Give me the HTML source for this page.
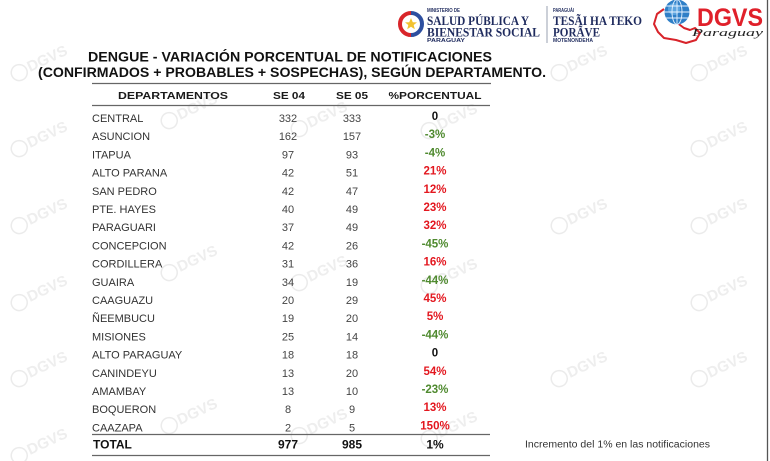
<!DOCTYPE html>
<html>
<head>
<meta charset="utf-8">
<style>
html,body{margin:0;padding:0;background:#fff;}
svg{display:block;}
</style>
</head>
<body>
<svg width="770" height="461" viewBox="0 0 770 461" xmlns="http://www.w3.org/2000/svg">
<rect width="770" height="461" fill="#ffffff"/>

<!-- watermarks -->
<g fill="none" stroke="#ececec" stroke-width="1.2" font-family="Liberation Sans, sans-serif">
  <g id="wm">
  </g>
</g>
<g font-family="Liberation Sans, sans-serif" font-weight="bold" font-size="15" fill="#eeeeee">
  <g transform="translate(30,72) rotate(-25)"><circle cx="-10" cy="-4" r="8" fill="none" stroke="#ebebeb" stroke-width="1.5"/><text x="0" y="0">DGVS</text></g>
  <g transform="translate(30,148) rotate(-25)"><circle cx="-10" cy="-4" r="8" fill="none" stroke="#ebebeb" stroke-width="1.5"/><text x="0" y="0">DGVS</text></g>
  <g transform="translate(30,225) rotate(-25)"><circle cx="-10" cy="-4" r="8" fill="none" stroke="#ebebeb" stroke-width="1.5"/><text x="0" y="0">DGVS</text></g>
  <g transform="translate(30,302) rotate(-25)"><circle cx="-10" cy="-4" r="8" fill="none" stroke="#ebebeb" stroke-width="1.5"/><text x="0" y="0">DGVS</text></g>
  <g transform="translate(30,378) rotate(-25)"><circle cx="-10" cy="-4" r="8" fill="none" stroke="#ebebeb" stroke-width="1.5"/><text x="0" y="0">DGVS</text></g>
  <g transform="translate(30,455) rotate(-25)"><circle cx="-10" cy="-4" r="8" fill="none" stroke="#ebebeb" stroke-width="1.5"/><text x="0" y="0">DGVS</text></g>

  <g transform="translate(180,120) rotate(-25)"><circle cx="-10" cy="-4" r="8" fill="none" stroke="#ebebeb" stroke-width="1.5"/><text x="0" y="0">DGVS</text></g>
  <g transform="translate(180,272) rotate(-25)"><circle cx="-10" cy="-4" r="8" fill="none" stroke="#ebebeb" stroke-width="1.5"/><text x="0" y="0">DGVS</text></g>
  <g transform="translate(180,425) rotate(-25)"><circle cx="-10" cy="-4" r="8" fill="none" stroke="#ebebeb" stroke-width="1.5"/><text x="0" y="0">DGVS</text></g>

  <g transform="translate(310,128) rotate(-25)"><circle cx="-10" cy="-4" r="8" fill="none" stroke="#ebebeb" stroke-width="1.5"/><text x="0" y="0">DGVS</text></g>
  <g transform="translate(310,282) rotate(-25)"><circle cx="-10" cy="-4" r="8" fill="none" stroke="#ebebeb" stroke-width="1.5"/><text x="0" y="0">DGVS</text></g>
  <g transform="translate(310,435) rotate(-25)"><circle cx="-10" cy="-4" r="8" fill="none" stroke="#ebebeb" stroke-width="1.5"/><text x="0" y="0">DGVS</text></g>

  <g transform="translate(440,130) rotate(-25)"><circle cx="-10" cy="-4" r="8" fill="none" stroke="#ebebeb" stroke-width="1.5"/><text x="0" y="0">DGVS</text></g>
  <g transform="translate(440,285) rotate(-25)"><circle cx="-10" cy="-4" r="8" fill="none" stroke="#ebebeb" stroke-width="1.5"/><text x="0" y="0">DGVS</text></g>
  <g transform="translate(440,438) rotate(-25)"><circle cx="-10" cy="-4" r="8" fill="none" stroke="#ebebeb" stroke-width="1.5"/><text x="0" y="0">DGVS</text></g>

  <g transform="translate(570,72) rotate(-25)"><circle cx="-10" cy="-4" r="8" fill="none" stroke="#ebebeb" stroke-width="1.5"/><text x="0" y="0">DGVS</text></g>
  <g transform="translate(570,225) rotate(-25)"><circle cx="-10" cy="-4" r="8" fill="none" stroke="#ebebeb" stroke-width="1.5"/><text x="0" y="0">DGVS</text></g>
  <g transform="translate(570,378) rotate(-25)"><circle cx="-10" cy="-4" r="8" fill="none" stroke="#ebebeb" stroke-width="1.5"/><text x="0" y="0">DGVS</text></g>

  <g transform="translate(710,72) rotate(-25)"><circle cx="-10" cy="-4" r="8" fill="none" stroke="#ebebeb" stroke-width="1.5"/><text x="0" y="0">DGVS</text></g>
  <g transform="translate(710,148) rotate(-25)"><circle cx="-10" cy="-4" r="8" fill="none" stroke="#ebebeb" stroke-width="1.5"/><text x="0" y="0">DGVS</text></g>
  <g transform="translate(710,225) rotate(-25)"><circle cx="-10" cy="-4" r="8" fill="none" stroke="#ebebeb" stroke-width="1.5"/><text x="0" y="0">DGVS</text></g>
  <g transform="translate(710,302) rotate(-25)"><circle cx="-10" cy="-4" r="8" fill="none" stroke="#ebebeb" stroke-width="1.5"/><text x="0" y="0">DGVS</text></g>
  <g transform="translate(710,378) rotate(-25)"><circle cx="-10" cy="-4" r="8" fill="none" stroke="#ebebeb" stroke-width="1.5"/><text x="0" y="0">DGVS</text></g>
</g>

<!-- right border line -->
<line x1="767.5" y1="0" x2="767.5" y2="461" stroke="#555" stroke-width="1.3"/>

<!-- Ministry emblem -->
<g>
  <path d="M411,13 A11,11 0 0,0 411,35" fill="none" stroke="#d9252a" stroke-width="4"/>
  <path d="M411,13 A11,11 0 0,1 411,35" fill="none" stroke="#2d4fa0" stroke-width="4"/>
  <circle cx="411" cy="24" r="7.5" fill="#fff"/>
  <polygon points="411,18 412.8,22.2 417,22.4 413.7,25 414.8,29.2 411,26.8 407.2,29.2 408.3,25 405,22.4 409.2,22.2" fill="#f2c230"/>
</g>
<g fill="#1f2b5e" font-family="Liberation Serif, serif" font-weight="bold">
  <text x="427" y="12" font-size="5.5" font-family="Liberation Sans, sans-serif" textLength="33" lengthAdjust="spacingAndGlyphs">MINISTERIO DE</text>
  <text x="427" y="25" font-size="13" textLength="102" lengthAdjust="spacingAndGlyphs">SALUD PÚBLICA Y</text>
  <text x="427" y="36.5" font-size="13" textLength="113" lengthAdjust="spacingAndGlyphs">BIENESTAR SOCIAL</text>
  <text x="427" y="42" font-size="5" font-family="Liberation Sans, sans-serif" textLength="38" lengthAdjust="spacingAndGlyphs">PARAGUAY</text>
  <text x="553" y="12" font-size="5.5" font-family="Liberation Sans, sans-serif" textLength="21" lengthAdjust="spacingAndGlyphs">PARAGUÁI</text>
  <text x="553" y="25" font-size="13" textLength="89" lengthAdjust="spacingAndGlyphs">TESÃI HA TEKO</text>
  <text x="553" y="36.5" font-size="13" textLength="47" lengthAdjust="spacingAndGlyphs">PORÃVE</text>
  <text x="553" y="42" font-size="5" font-family="Liberation Sans, sans-serif" textLength="40" lengthAdjust="spacingAndGlyphs">MOTENONDEHA</text>
</g>
<line x1="547" y1="6" x2="547" y2="43" stroke="#9aa0b0" stroke-width="1"/>

<!-- DGVS logo -->
<g>
  <path d="M664,9 L657,14 L654,24 L658,32 L664,38 L676,40 L686,43 L696,40 L700,33 L695,28 L690,30 L684,28 L676,22" fill="none" stroke="#d8232a" stroke-width="2" stroke-linejoin="round"/>
  <circle cx="677" cy="12" r="12.5" fill="#2f7fc7"/>
  <circle cx="674" cy="9" r="6" fill="#6fb3ea" opacity="0.7"/>
  <g stroke="#e6f2ff" stroke-width="0.9" fill="none">
    <ellipse cx="677" cy="12" rx="5" ry="12.5"/>
    <line x1="664.5" y1="12" x2="689.5" y2="12"/>
    <line x1="666" y1="6" x2="688" y2="6"/>
    <line x1="666" y1="18" x2="688" y2="18"/>
    <line x1="677" y1="-0.5" x2="677" y2="24.5"/>
  </g>
  <text x="697" y="26" font-family="Liberation Sans, sans-serif" font-weight="bold" font-size="25" fill="#e0202a" textLength="66" lengthAdjust="spacingAndGlyphs">DGVS</text>
  <text x="692" y="36" font-family="Liberation Serif, serif" font-style="italic" font-size="11" fill="#222" textLength="71" lengthAdjust="spacingAndGlyphs">Paraguay</text>
</g>

<!-- Title -->
<g font-family="Liberation Sans, sans-serif" font-weight="bold" fill="#111" font-size="13.5">
  <text x="88" y="61.5" textLength="404" lengthAdjust="spacingAndGlyphs">DENGUE - VARIACIÓN PORCENTUAL DE NOTIFICACIONES</text>
  <text x="38" y="77" textLength="508" lengthAdjust="spacingAndGlyphs">(CONFIRMADOS + PROBABLES + SOSPECHAS), SEGÚN DEPARTAMENTO.</text>
</g>

<!-- Table rules -->
<g stroke="#666" stroke-width="1.3">
  <line x1="92" y1="83.5" x2="491" y2="83.5"/>
  <line x1="92" y1="105.5" x2="490" y2="105.5"/>
  <line x1="92" y1="434.5" x2="490" y2="434.5"/>
  <line x1="92" y1="455.5" x2="490" y2="455.5"/>
</g>

<!-- Header -->
<g font-family="Liberation Sans, sans-serif" font-weight="bold" fill="#1a1a1a" font-size="10.5">
  <text x="118" y="99" textLength="110" lengthAdjust="spacingAndGlyphs">DEPARTAMENTOS</text>
  <text x="273" y="99" textLength="32" lengthAdjust="spacingAndGlyphs">SE 04</text>
  <text x="336" y="99" textLength="32" lengthAdjust="spacingAndGlyphs">SE 05</text>
  <text x="388.5" y="99" textLength="93" lengthAdjust="spacingAndGlyphs">%PORCENTUAL</text>
</g>

<!-- Names -->
<g font-family="Liberation Sans, sans-serif" fill="#333" font-size="11">
  <text x="92" y="122">CENTRAL</text>
  <text x="92" y="140.2">ASUNCION</text>
  <text x="92" y="158.4">ITAPUA</text>
  <text x="92" y="176.6">ALTO PARANA</text>
  <text x="92" y="194.8">SAN PEDRO</text>
  <text x="92" y="213">PTE. HAYES</text>
  <text x="92" y="231.2">PARAGUARI</text>
  <text x="92" y="249.4">CONCEPCION</text>
  <text x="92" y="267.6">CORDILLERA</text>
  <text x="92" y="285.8">GUAIRA</text>
  <text x="92" y="304">CAAGUAZU</text>
  <text x="92" y="322.2">ÑEEMBUCU</text>
  <text x="92" y="340.4">MISIONES</text>
  <text x="92" y="358.6">ALTO PARAGUAY</text>
  <text x="92" y="376.8">CANINDEYU</text>
  <text x="92" y="395">AMAMBAY</text>
  <text x="92" y="413.2">BOQUERON</text>
  <text x="92" y="431.4">CAAZAPA</text>
</g>

<!-- SE 04 -->
<g font-family="Liberation Sans, sans-serif" fill="#444" font-size="11" text-anchor="middle">
  <text x="288" y="122">332</text>
  <text x="288" y="140.2">162</text>
  <text x="288" y="158.4">97</text>
  <text x="288" y="176.6">42</text>
  <text x="288" y="194.8">42</text>
  <text x="288" y="213">40</text>
  <text x="288" y="231.2">37</text>
  <text x="288" y="249.4">42</text>
  <text x="288" y="267.6">31</text>
  <text x="288" y="285.8">34</text>
  <text x="288" y="304">20</text>
  <text x="288" y="322.2">19</text>
  <text x="288" y="340.4">25</text>
  <text x="288" y="358.6">18</text>
  <text x="288" y="376.8">13</text>
  <text x="288" y="395">13</text>
  <text x="288" y="413.2">8</text>
  <text x="288" y="431.4">2</text>
</g>

<!-- SE 05 -->
<g font-family="Liberation Sans, sans-serif" fill="#444" font-size="11" text-anchor="middle">
  <text x="352" y="122">333</text>
  <text x="352" y="140.2">157</text>
  <text x="352" y="158.4">93</text>
  <text x="352" y="176.6">51</text>
  <text x="352" y="194.8">47</text>
  <text x="352" y="213">49</text>
  <text x="352" y="231.2">49</text>
  <text x="352" y="249.4">26</text>
  <text x="352" y="267.6">36</text>
  <text x="352" y="285.8">19</text>
  <text x="352" y="304">29</text>
  <text x="352" y="322.2">20</text>
  <text x="352" y="340.4">14</text>
  <text x="352" y="358.6">18</text>
  <text x="352" y="376.8">20</text>
  <text x="352" y="395">10</text>
  <text x="352" y="413.2">9</text>
  <text x="352" y="431.4">5</text>
</g>

<!-- Percent -->
<g font-family="Liberation Sans, sans-serif" font-weight="bold" font-size="11.5" text-anchor="middle">
  <text x="435" y="120" fill="#111">0</text>
  <text x="435" y="138.2" fill="#4f8a2f">-3%</text>
  <text x="435" y="156.4" fill="#4f8a2f">-4%</text>
  <text x="435" y="174.6" fill="#e3171f">21%</text>
  <text x="435" y="192.8" fill="#e3171f">12%</text>
  <text x="435" y="211" fill="#e3171f">23%</text>
  <text x="435" y="229.2" fill="#e3171f">32%</text>
  <text x="435" y="247.4" fill="#4f8a2f">-45%</text>
  <text x="435" y="265.6" fill="#e3171f">16%</text>
  <text x="435" y="283.8" fill="#4f8a2f">-44%</text>
  <text x="435" y="302" fill="#e3171f">45%</text>
  <text x="435" y="320.2" fill="#e3171f">5%</text>
  <text x="435" y="338.4" fill="#4f8a2f">-44%</text>
  <text x="435" y="356.6" fill="#111">0</text>
  <text x="435" y="374.8" fill="#e3171f">54%</text>
  <text x="435" y="393" fill="#4f8a2f">-23%</text>
  <text x="435" y="411.2" fill="#e3171f">13%</text>
  <text x="435" y="429.4" fill="#e3171f">150%</text>
</g>

<!-- Total row -->
<g font-family="Liberation Sans, sans-serif" font-weight="bold" font-size="12" fill="#111">
  <text x="93" y="448.6">TOTAL</text>
  <text x="288" y="448.6" text-anchor="middle">977</text>
  <text x="352" y="448.6" text-anchor="middle">985</text>
  <text x="435" y="448.6" text-anchor="middle">1%</text>
</g>

<!-- footnote -->
<text x="525" y="447.6" font-family="Liberation Sans, sans-serif" font-size="10" fill="#333" textLength="185" lengthAdjust="spacingAndGlyphs">Incremento del 1% en las notificaciones</text>
</svg>
</body>
</html>
